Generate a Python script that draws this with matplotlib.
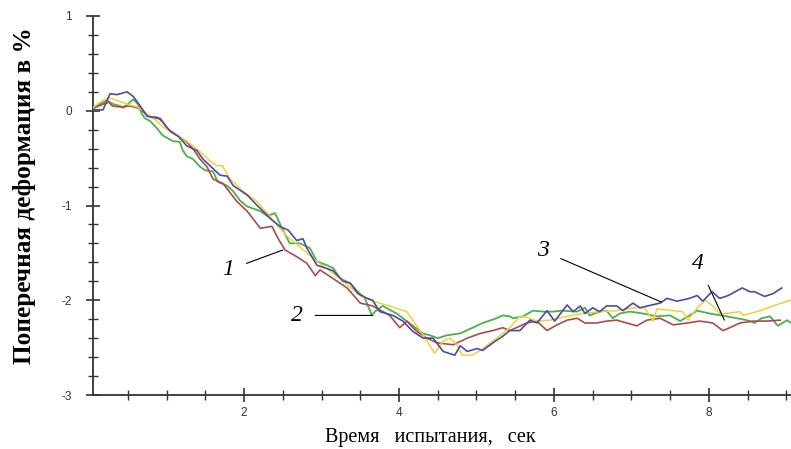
import numpy as np
import matplotlib
matplotlib.use('Agg')
import matplotlib.pyplot as plt
from matplotlib.ticker import MultipleLocator, FixedLocator

# curve 1 (red)
t_red = [0.01, 0.18, 0.25, 0.30, 0.40, 0.53, 0.66, 0.75, 0.83, 0.92, 1.01, 1.14,
         1.26, 1.34, 1.43, 1.52, 1.60, 1.73, 1.91, 2.04, 2.21, 2.36, 2.44, 2.53,
         2.68, 2.81, 2.92, 2.98, 3.11, 3.33, 3.50, 3.66, 3.88, 4.01, 4.10, 4.23,
         4.36, 4.49, 4.70, 4.88, 5.05, 5.21, 5.34, 5.43, 5.65, 5.78, 5.91, 6.04,
         6.17, 6.30, 6.40, 6.55, 6.68, 6.81, 6.94, 7.07, 7.20, 7.37, 7.54, 7.72,
         7.88, 8.05, 8.18, 8.27, 8.40, 8.57, 8.75, 8.92]
y_red = [0.01, 0.07, 0.09, 0.05, 0.04, 0.05, 0.02, -0.05, -0.08, -0.08, -0.19, -0.26,
         -0.33, -0.40, -0.51, -0.59, -0.72, -0.77, -0.96, -1.06, -1.24, -1.22, -1.35, -1.47,
         -1.54, -1.61, -1.74, -1.68, -1.75, -1.87, -2.03, -2.06, -2.16, -2.29, -2.22, -2.33,
         -2.40, -2.45, -2.47, -2.40, -2.35, -2.32, -2.29, -2.32, -2.24, -2.22, -2.32, -2.26,
         -2.21, -2.19, -2.24, -2.24, -2.22, -2.21, -2.24, -2.27, -2.21, -2.19, -2.26, -2.24,
         -2.22, -2.24, -2.32, -2.29, -2.24, -2.22, -2.22, -2.21]

# curve 2 (green)
t_green = [0.01, 0.14, 0.23, 0.31, 0.40, 0.44, 0.50, 0.57, 0.63, 0.68, 0.72, 0.79,
           0.88, 0.95, 1.08, 1.17, 1.21, 1.26, 1.34, 1.43, 1.50, 1.60, 1.66, 1.78,
           1.86, 1.95, 2.04, 2.21, 2.30, 2.40, 2.49, 2.59, 2.72, 2.85, 2.94, 3.07,
           3.15, 3.24, 3.37, 3.47, 3.56, 3.65, 3.69, 3.79, 3.97, 4.05, 4.18, 4.31,
           4.40, 4.50, 4.62, 4.79, 4.95, 5.08, 5.26, 5.34, 5.43, 5.47, 5.60, 5.73,
           5.86, 5.99, 6.10, 6.30, 6.40, 6.46, 6.59, 6.68, 6.76, 6.85, 6.98, 7.15,
           7.33, 7.50, 7.63, 7.85, 8.01, 8.23, 8.36, 8.49, 8.59, 8.68, 8.79, 8.89,
           9.01, 9.06]
y_green = [0.01, 0.07, 0.11, 0.07, 0.05, 0.03, 0.07, 0.12, 0.07, -0.03, -0.08, -0.11,
           -0.19, -0.26, -0.32, -0.33, -0.42, -0.48, -0.51, -0.59, -0.63, -0.64, -0.75, -0.79,
           -0.85, -0.95, -1.01, -1.06, -1.11, -1.08, -1.24, -1.40, -1.40, -1.45, -1.59, -1.63,
           -1.66, -1.77, -1.82, -1.91, -1.98, -2.16, -2.12, -2.06, -2.14, -2.19, -2.27, -2.35,
           -2.37, -2.40, -2.37, -2.35, -2.29, -2.24, -2.19, -2.16, -2.17, -2.19, -2.17, -2.11,
           -2.12, -2.12, -2.11, -2.12, -2.08, -2.16, -2.12, -2.11, -2.19, -2.14, -2.12, -2.14,
           -2.17, -2.16, -2.22, -2.11, -2.14, -2.17, -2.19, -2.21, -2.24, -2.19, -2.17, -2.27,
           -2.21, -2.24]

# curve 3 (blue)
t_blue = [0.01, 0.18, 0.27, 0.36, 0.49, 0.57, 0.66, 0.75, 0.88, 0.94, 1.05, 1.15,
          1.26, 1.39, 1.47, 1.56, 1.69, 1.78, 1.86, 2.04, 2.17, 2.27, 2.34, 2.46,
          2.57, 2.68, 2.76, 2.81, 2.94, 3.05, 3.15, 3.28, 3.37, 3.47, 3.59, 3.66,
          3.75, 3.92, 4.05, 4.18, 4.31, 4.44, 4.57, 4.72, 4.79, 4.88, 5.01, 5.08,
          5.21, 5.34, 5.43, 5.56, 5.69, 5.78, 5.91, 6.01, 6.17, 6.25, 6.34, 6.40,
          6.50, 6.59, 6.68, 6.81, 6.89, 7.02, 7.11, 7.21, 7.37, 7.46, 7.59, 7.75,
          7.85, 7.92, 8.04, 8.14, 8.25, 8.43, 8.53, 8.59, 8.72, 8.83, 8.94]
y_blue = [0.01, 0.01, 0.18, 0.17, 0.20, 0.15, 0.05, -0.06, -0.07, -0.11, -0.22, -0.27,
          -0.37, -0.42, -0.51, -0.58, -0.68, -0.69, -0.79, -0.89, -1.00, -1.08, -1.14, -1.22,
          -1.26, -1.37, -1.35, -1.45, -1.63, -1.66, -1.69, -1.80, -1.82, -1.93, -1.98, -2.00,
          -2.12, -2.16, -2.22, -2.33, -2.40, -2.40, -2.54, -2.58, -2.48, -2.54, -2.51, -2.53,
          -2.45, -2.38, -2.32, -2.32, -2.21, -2.24, -2.11, -2.22, -2.05, -2.12, -2.06, -2.14,
          -2.08, -2.12, -2.06, -2.06, -2.11, -2.03, -2.08, -2.06, -2.03, -1.98, -2.01, -1.98,
          -1.95, -2.01, -1.91, -1.98, -1.95, -1.87, -1.91, -1.91, -1.96, -1.93, -1.87]

# curve 4 (yellow)
t_yellow = [0.01, 0.14, 0.25, 0.36, 0.49, 0.62, 0.70, 0.83, 0.95, 1.14, 1.26, 1.43,
            1.56, 1.65, 1.72, 1.82, 1.99, 2.17, 2.55, 2.94, 3.24, 3.50, 3.66, 3.88,
            4.10, 4.23, 4.36, 4.46, 4.57, 4.66, 4.75, 4.81, 4.95, 5.08, 5.21, 5.34,
            5.43, 5.56, 5.65, 5.78, 5.95, 6.17, 6.37, 6.59, 6.81, 7.02, 7.17, 7.28,
            7.33, 7.54, 7.66, 7.73, 7.85, 7.95, 8.05, 8.14, 8.23, 8.40, 8.44, 8.62,
            8.83, 9.05]
y_yellow = [0.01, 0.09, 0.14, 0.11, 0.07, 0.04, 0.00, -0.08, -0.17, -0.26, -0.32, -0.43,
            -0.53, -0.58, -0.58, -0.72, -0.85, -0.96, -1.32, -1.59, -1.77, -1.95, -2.01, -2.06,
            -2.12, -2.27, -2.43, -2.56, -2.43, -2.40, -2.47, -2.58, -2.58, -2.51, -2.43, -2.35,
            -2.29, -2.17, -2.18, -2.22, -2.21, -2.17, -2.14, -2.12, -2.11, -2.08, -2.08, -2.22,
            -2.09, -2.11, -2.12, -2.21, -2.08, -2.00, -2.06, -2.14, -2.14, -2.12, -2.16, -2.12,
            -2.06, -2.00]

y_labels = ['-3', '-2', '-1', '0', '1']
x_labels = ['2', '4', '6', '8']

serif = ['Liberation Serif', 'DejaVu Serif']
sans = ['Liberation Sans', 'DejaVu Sans']

fig = plt.figure(figsize=(7.91, 4.49), dpi=100)
ax = fig.add_axes([93 / 791, 1 - 395 / 449, 1 - 93 / 791, (395 - 16) / 449])

ax.plot(t_red, y_red, color='#b04a4a', lw=1.2, zorder=3)
ax.plot(t_green, y_green, color='#4cb04c', lw=1.3, zorder=2)
ax.plot(t_yellow, y_yellow, color='#f2d038', lw=1.1, zorder=4)
ax.plot(t_blue, y_blue, color='#4c4ca6', lw=1.2, zorder=5)

ax.set_xlim(0.05, 9.06)
ax.set_ylim(-3, 1)

for side in ['top', 'right']:
    ax.spines[side].set_visible(False)
for side in ['left', 'bottom']:
    ax.spines[side].set_color('#333333')
    ax.spines[side].set_linewidth(1.3)
ax.spines['left'].set_position(('data', 0.05))

ax.xaxis.set_major_locator(FixedLocator([2, 4, 6, 8]))
ax.xaxis.set_minor_locator(MultipleLocator(0.5))
ax.set_xticklabels(x_labels)
ax.yaxis.set_major_locator(FixedLocator([-3, -2, -1, 0, 1]))
ax.yaxis.set_minor_locator(MultipleLocator(0.2))
ax.set_yticklabels(y_labels)

ax.tick_params(which='major', direction='inout', length=10, width=1.2,
               color='#333333', labelsize=8.5, labelcolor='#333333')
ax.tick_params(which='minor', direction='inout', length=7, width=1.0,
               color='#333333')
ax.tick_params(axis='y', which='major', pad=10)
ax.tick_params(axis='x', which='major', pad=4)
for lab in ax.get_xticklabels() + ax.get_yticklabels():
    lab.set_family(sans)

ax.set_ylabel('Поперечная деформация в %', family=serif, fontsize=18.2,
              fontweight='bold')
ax.yaxis.set_label_coords(-0.082, 0.525)
ax.set_xlabel('Время   испытания,   сек', family=serif, fontsize=14.5)
ax.xaxis.set_label_coords(0.483, -0.088)

notes = [('1', (2.50, -1.47), (1.80, -1.68)),
         ('2', (3.66, -2.16), (2.68, -2.16)),
         ('3', (7.39, -2.02), (5.86, -1.48)),
         ('4', (8.20, -2.21), (7.86, -1.61))]
for label, xy, xytext in notes:
    ax.annotate(label, xy=xy, xytext=xytext, family=serif, style='italic',
                fontsize=17, ha='center', va='center', zorder=6,
                arrowprops=dict(arrowstyle='-', color='black', lw=0.8,
                                shrinkA=7, shrinkB=0))

plt.savefig('out.png', dpi=100)
